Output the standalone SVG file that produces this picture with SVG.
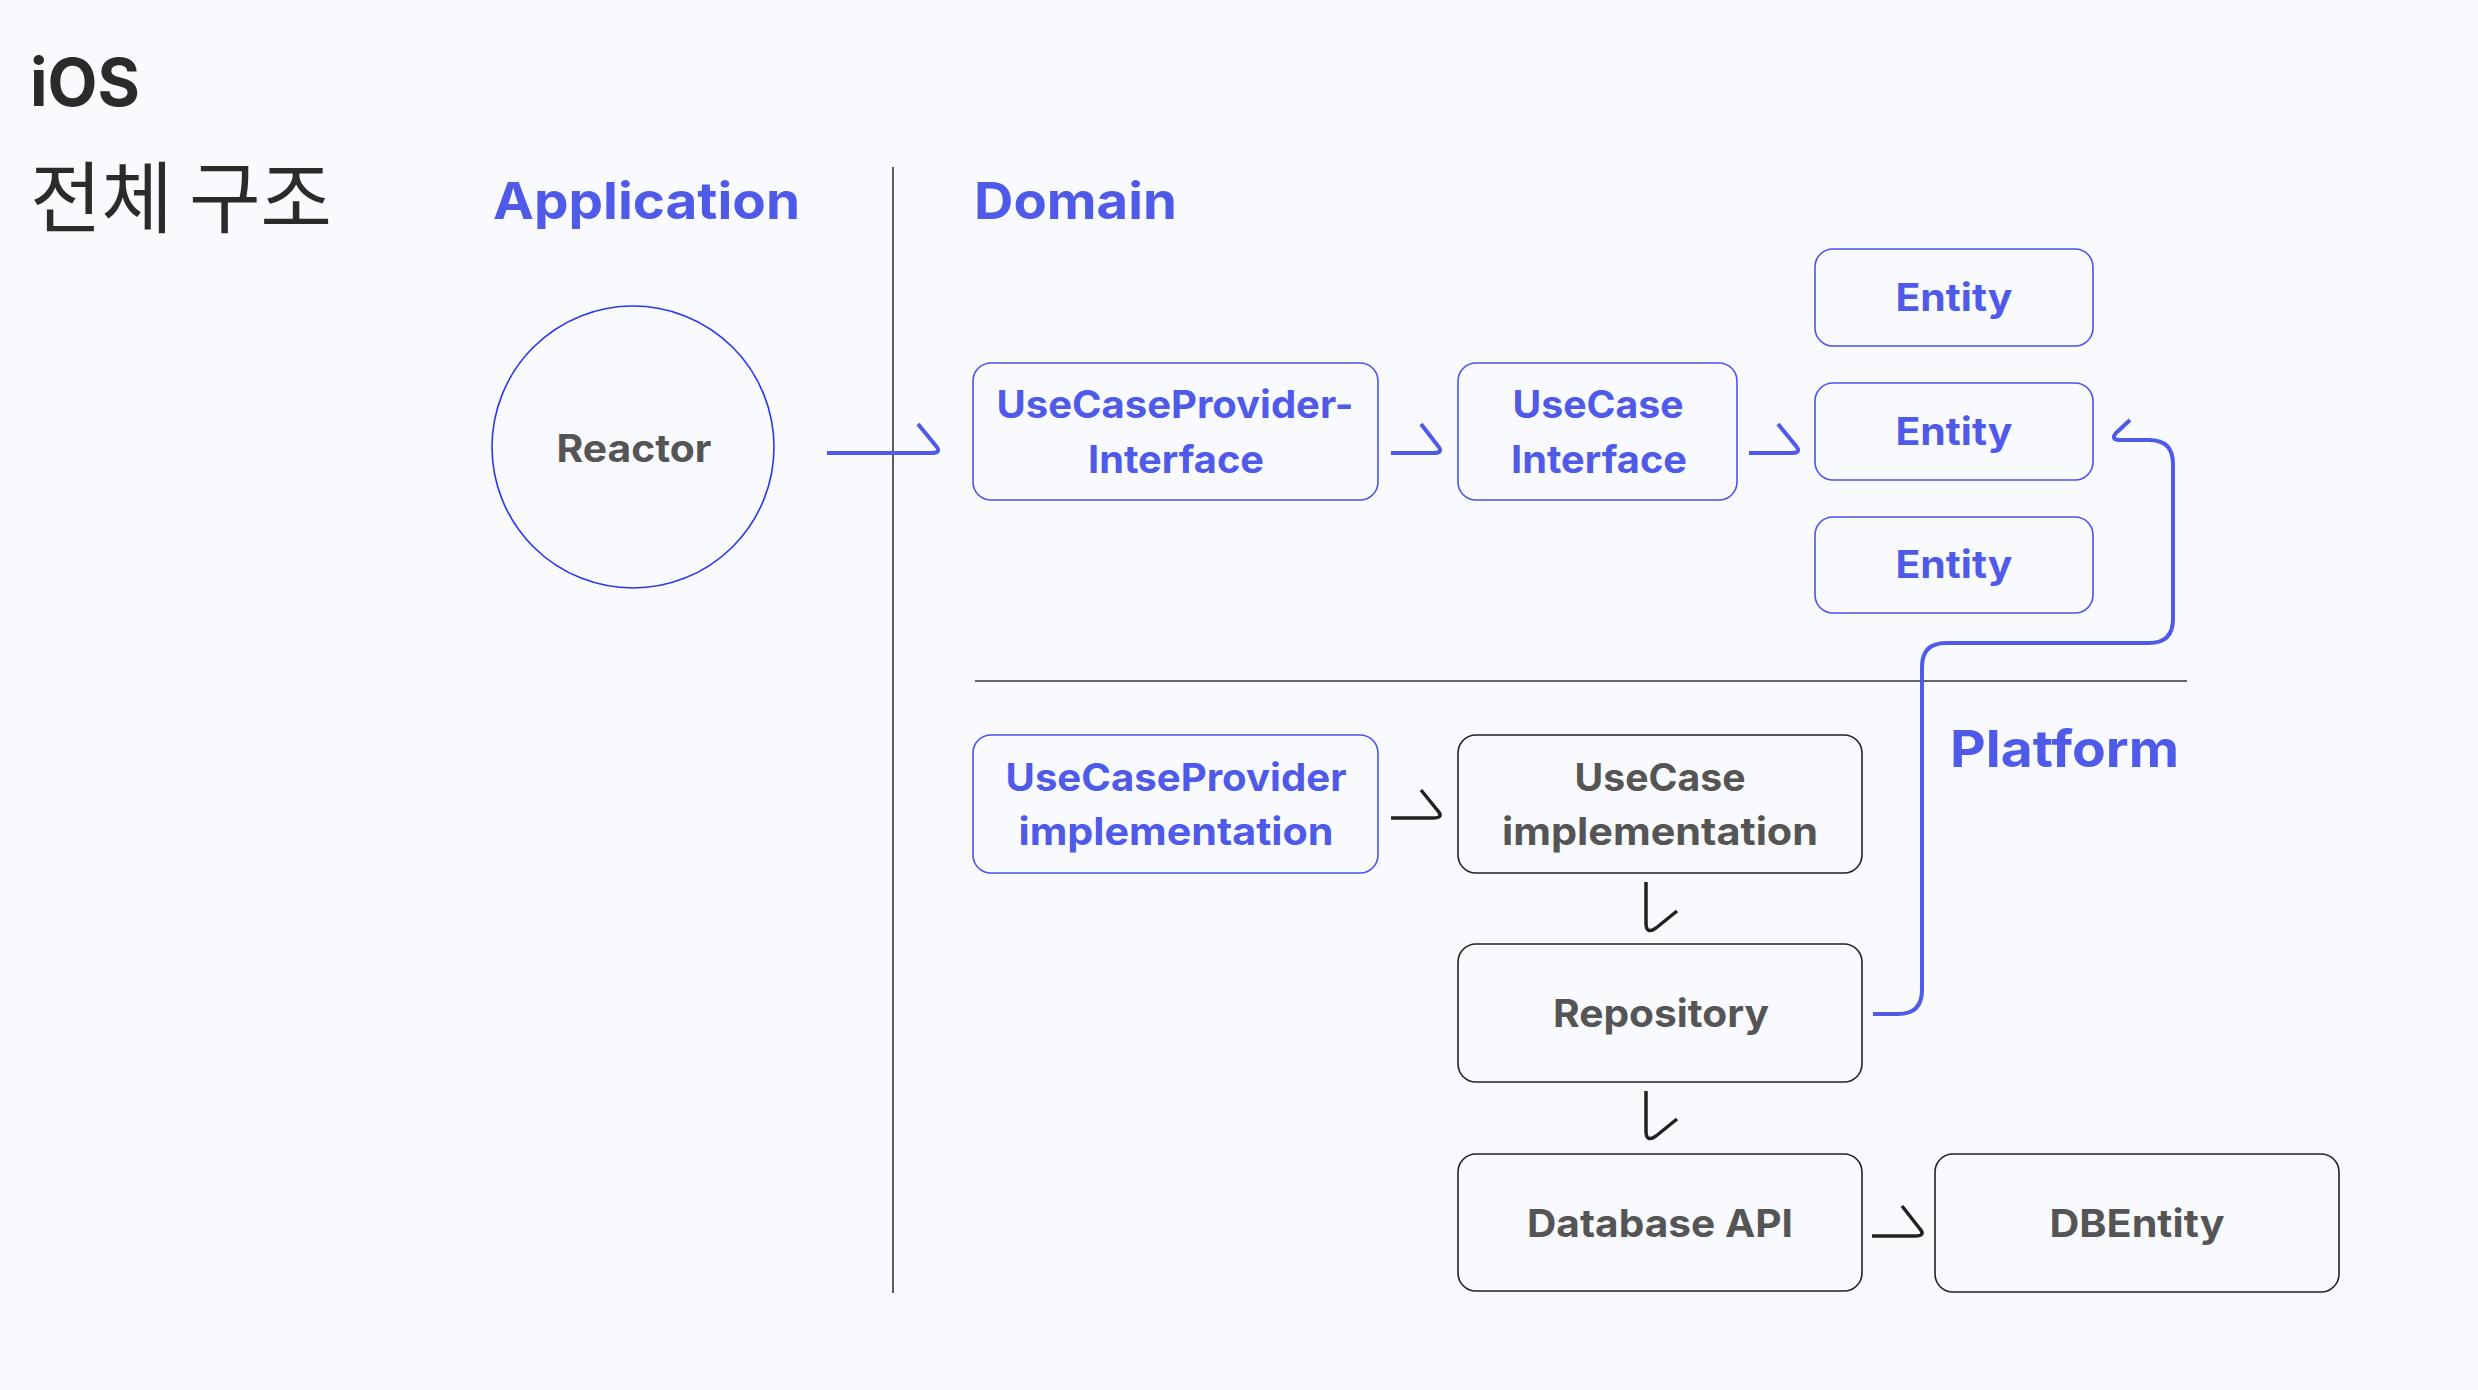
<svg xmlns="http://www.w3.org/2000/svg" width="2478" height="1390" viewBox="0 0 2478 1390">
<defs>
<style>
.bg{fill:#f9fafd}
.title{font-family:Inter,"Noto Sans",sans-serif;font-weight:700;fill:#2b2b2b}
.kr{font-family:"Noto Sans CJK KR","Noto Sans",sans-serif;font-weight:400;fill:#2b2b2b}
.sec{font-family:Inter,"Noto Sans",sans-serif;font-weight:700;fill:#505ae9;font-size:51px}
.bt{font-family:Inter,"Noto Sans",sans-serif;font-weight:700;fill:#505ae9;font-size:38px;text-anchor:middle}
.gt{font-family:Inter,"Noto Sans",sans-serif;font-weight:700;fill:#555555;font-size:38px;text-anchor:middle}
.bbox{fill:none;stroke:#4a52f0;stroke-width:1.6}
.kbox{fill:none;stroke:#222222;stroke-width:1.6}
.div{stroke:#333333;stroke-width:1.6;fill:none}
.ba{fill:none;stroke:#505ae9;stroke-width:4;stroke-linecap:butt;stroke-linejoin:round}
.ka{fill:none;stroke:#222222;stroke-width:3.5;stroke-linecap:butt;stroke-linejoin:round}
</style>
</defs>
<rect class="bg" x="0" y="0" width="2478" height="1390"/>

<text class="title" x="30" y="106" font-size="66" textLength="110" lengthAdjust="spacingAndGlyphs">iOS</text>
<text class="kr" x="30" y="227" font-size="78" textLength="302" lengthAdjust="spacing">전체 구조</text>

<text class="sec" x="493" y="219" textLength="307" lengthAdjust="spacingAndGlyphs">Application</text>
<text class="sec" x="974" y="219" textLength="203" lengthAdjust="spacingAndGlyphs">Domain</text>
<text class="sec" x="1950" y="767" textLength="229" lengthAdjust="spacingAndGlyphs">Platform</text>

<g id="dividers">
<line class="div" x1="893" y1="167" x2="893" y2="1293"/>
<line class="div" x1="975" y1="681" x2="2187" y2="681"/>
</g>

<g id="reactor">
<circle cx="633" cy="447" r="141" fill="none" stroke="#2b35f2" stroke-width="1.6"/>
<text class="gt" x="634" y="462" textLength="155" lengthAdjust="spacingAndGlyphs">Reactor</text>
</g>

<g id="usecaseprovider-interface">
<rect class="bbox" x="973" y="363" width="405" height="137" rx="18"/>
<text class="bt" x="1175" y="418" textLength="357" lengthAdjust="spacingAndGlyphs">UseCaseProvider-</text>
<text class="bt" x="1176" y="473" textLength="176" lengthAdjust="spacingAndGlyphs">Interface</text>
</g>

<g id="usecase-interface">
<rect class="bbox" x="1458" y="363" width="279" height="137" rx="18"/>
<text class="bt" x="1598" y="418" textLength="171" lengthAdjust="spacingAndGlyphs">UseCase</text>
<text class="bt" x="1599" y="473" textLength="176" lengthAdjust="spacingAndGlyphs">Interface</text>
</g>

<g id="entity-1">
<rect class="bbox" x="1815" y="249" width="278" height="97" rx="18"/>
<text class="bt" x="1954" y="311" textLength="117" lengthAdjust="spacingAndGlyphs">Entity</text>
</g>
<g id="entity-2">
<rect class="bbox" x="1815" y="383" width="278" height="97" rx="18"/>
<text class="bt" x="1954" y="445" textLength="117" lengthAdjust="spacingAndGlyphs">Entity</text>
</g>
<g id="entity-3">
<rect class="bbox" x="1815" y="517" width="278" height="96" rx="18"/>
<text class="bt" x="1954" y="578" textLength="117" lengthAdjust="spacingAndGlyphs">Entity</text>
</g>

<g id="usecaseprovider-implementation">
<rect class="bbox" x="973" y="735" width="405" height="138" rx="18"/>
<text class="bt" x="1176" y="791" textLength="341" lengthAdjust="spacingAndGlyphs">UseCaseProvider</text>
<text class="bt" x="1176" y="845" textLength="315" lengthAdjust="spacingAndGlyphs">implementation</text>
</g>

<g id="usecase-implementation">
<rect class="kbox" x="1458" y="735" width="404" height="138" rx="18"/>
<text class="gt" x="1660" y="791" textLength="171" lengthAdjust="spacingAndGlyphs">UseCase</text>
<text class="gt" x="1660" y="845" textLength="316" lengthAdjust="spacingAndGlyphs">implementation</text>
</g>

<g id="repository">
<rect class="kbox" x="1458" y="944" width="404" height="138" rx="18"/>
<text class="gt" x="1661" y="1027" textLength="216" lengthAdjust="spacingAndGlyphs">Repository</text>
</g>

<g id="database-api">
<rect class="kbox" x="1458" y="1154" width="404" height="137" rx="18"/>
<text class="gt" x="1660" y="1237" textLength="266" lengthAdjust="spacingAndGlyphs">Database API</text>
</g>

<g id="dbentity">
<rect class="kbox" x="1935" y="1154" width="404" height="138" rx="18"/>
<text class="gt" x="2137" y="1237" textLength="175" lengthAdjust="spacingAndGlyphs">DBEntity</text>
</g>

<g id="connectors">
<path class="ba" d="M827,453 H931 Q942,453 936,446 L918,424"/>
<path class="ba" d="M1391,453 H1433 Q1444,453 1438,446 L1421,424"/>
<path class="ba" d="M1749,453 H1791 Q1802,453 1796,446 L1778,424"/>
<path class="ba" d="M1873,1014 H1898 Q1922,1014 1922,990 V667 Q1922,643 1946,643 H2149 Q2173,643 2173,619 V464 Q2173,440 2149,440 H2121 Q2110,440 2116,433 L2130,420"/>
<path class="ka" d="M1391,818 H1433 Q1444,818 1438,811 L1421,790"/>
<path class="ka" d="M1646,882 V923 Q1646,935 1656,928 L1677,911"/>
<path class="ka" d="M1646,1091 V1131 Q1646,1143 1656,1136 L1677,1119"/>
<path class="ka" d="M1872,1236 H1915 Q1926,1236 1920,1229 L1902,1206"/>
</g>
</svg>
